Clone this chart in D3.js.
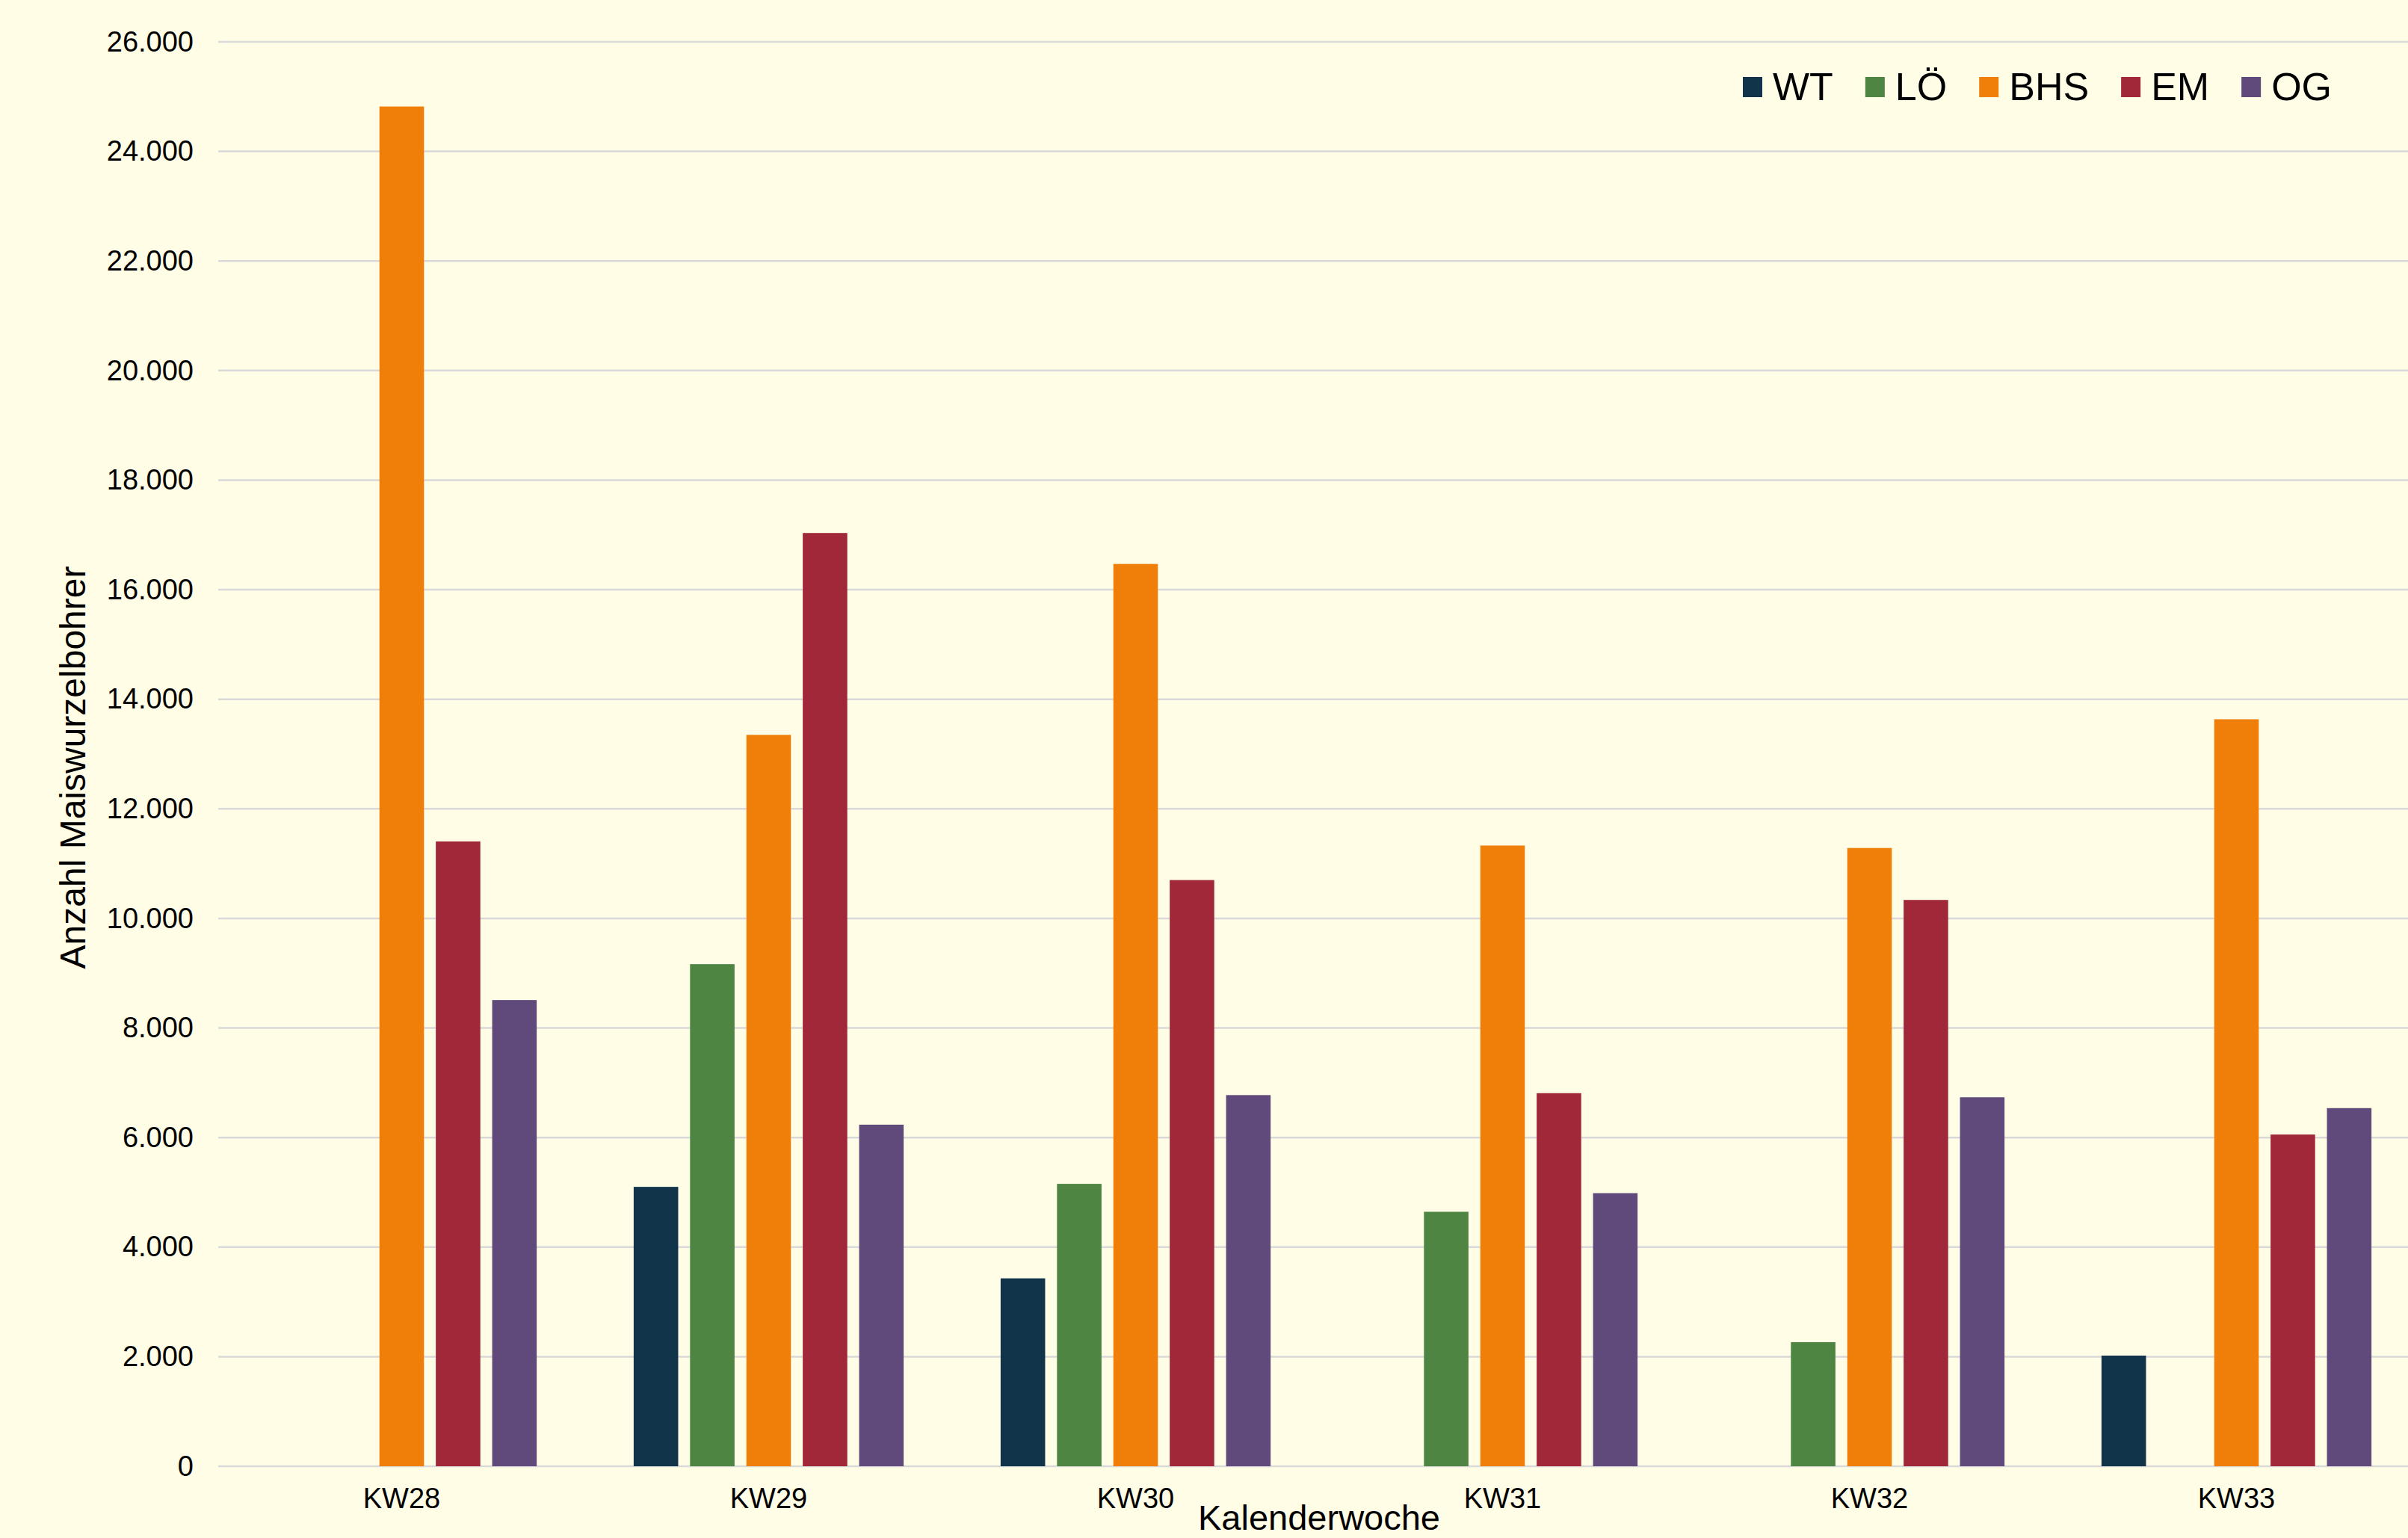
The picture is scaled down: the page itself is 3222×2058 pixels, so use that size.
<!DOCTYPE html>
<html>
<head>
<meta charset="utf-8">
<script src="https://cdn.jsdelivr.net/npm/d3@7"></script>
<style>
  html, body { margin: 0; padding: 0; background: #FFFDE6; }
  svg { display: block; font-family: "Liberation Sans", Arial, sans-serif; }
</style>
</head>
<body>
<script>
const categories = ["KW28", "KW29", "KW30", "KW31", "KW32", "KW33"];
const seriesNames = ["WT", "LÖ", "BHS", "EM", "OG"];
const seriesColors = ["#12344A", "#4E8542", "#F07F09", "#A12838", "#604A7B"];
const valuesWT  = [null, 5100, 3430, null, null, 2020];
const valuesLO  = [null, 9165, 5155, 4645, 2265, null];
const valuesBHS = [24820, 13350, 16470, 11330, 11285, 13635];
const valuesEM  = [11405, 17035, 10700, 6810, 10337, 6055];
const valuesOG  = [8510, 6235, 6775, 4985, 6735, 6537];
const yTicks = [0, 2000, 4000, 6000, 8000, 10000, 12000, 14000, 16000, 18000, 20000, 22000, 24000, 26000];
const yTitle = "Anzahl Maiswurzelbohrer";
const xTitle = "Kalenderwoche";

const seriesValues = [valuesWT, valuesLO, valuesBHS, valuesEM, valuesOG];

const W = 3222, H = 2058;
const mLeft = 292, mRight = 3238, mTop = 56, mBottom = 1962;

const svg = d3.select("body").append("svg").attr("width", W).attr("height", H);
svg.append("rect").attr("width", W).attr("height", H).attr("fill", "#FFFDE6");

const x0 = d3.scaleBand().domain(categories).range([mLeft, mRight]).paddingInner(0.232).paddingOuter(0.116);
const x1 = d3.scaleBand().domain(seriesNames).range([0, x0.bandwidth()]).paddingInner(0.21).paddingOuter(0.105);
const y = d3.scaleLinear().domain([0, 26000]).range([mBottom, mTop]);

const fmt = v => d3.format(",")(v).replace(/,/g, ".");

// grid
svg.append("g").selectAll("line").data(yTicks).join("line")
  .attr("x1", mLeft).attr("x2", W)
  .attr("y1", d => y(d)).attr("y2", d => y(d))
  .attr("stroke", "#D9D9D9").attr("stroke-width", 2.5);

// y axis labels
const yAxis = d3.axisLeft(y).tickValues(yTicks).tickFormat(fmt).tickSize(0).tickPadding(0);
const gy = svg.append("g").attr("transform", `translate(259,0)`).call(yAxis);
gy.select(".domain").remove();
gy.selectAll("text").attr("font-size", 38).attr("fill", "#000").attr("font-family", '"Liberation Sans", Arial, sans-serif');

// x axis labels
const xAxis = d3.axisBottom(x0).tickSize(0).tickPadding(0);
const gx = svg.append("g").attr("transform", `translate(0,${mBottom})`).call(xAxis);
gx.select(".domain").remove();
gx.selectAll("text").attr("font-size", 38).attr("fill", "#000").attr("dy", null).attr("y", 56)
  .attr("font-family", '"Liberation Sans", Arial, sans-serif');

// bars
const rows = [];
categories.forEach((c, i) => {
  seriesNames.forEach((s, j) => {
    const v = seriesValues[j][i];
    if (v != null) rows.push({ c, s, v, color: seriesColors[j] });
  });
});
svg.append("g").selectAll("rect").data(rows).join("rect")
  .attr("x", d => x0(d.c) + x1(d.s))
  .attr("width", x1.bandwidth())
  .attr("y", d => y(d.v))
  .attr("height", d => y(0) - y(d.v))
  .attr("fill", d => d.color);

// titles
svg.append("text").attr("x", (mLeft + mRight) / 2).attr("y", 2047)
  .attr("text-anchor", "middle").attr("font-size", 47).attr("fill", "#000").text(xTitle);
svg.append("text").attr("transform", "translate(114,1027) rotate(-90)")
  .attr("text-anchor", "middle").attr("font-size", 48).attr("fill", "#000").text(yTitle);

// legend
const lg = svg.append("g");
let lx = 2332;
seriesNames.forEach((s, j) => {
  lg.append("rect").attr("x", lx).attr("y", 103).attr("width", 26).attr("height", 27).attr("fill", seriesColors[j]);
  const t = lg.append("text").attr("x", lx + 40).attr("y", 134).attr("font-size", 52).attr("fill", "#000").text(s);
  lx += 40 + t.node().getComputedTextLength() + 43;
});
</script>
</body>
</html>
